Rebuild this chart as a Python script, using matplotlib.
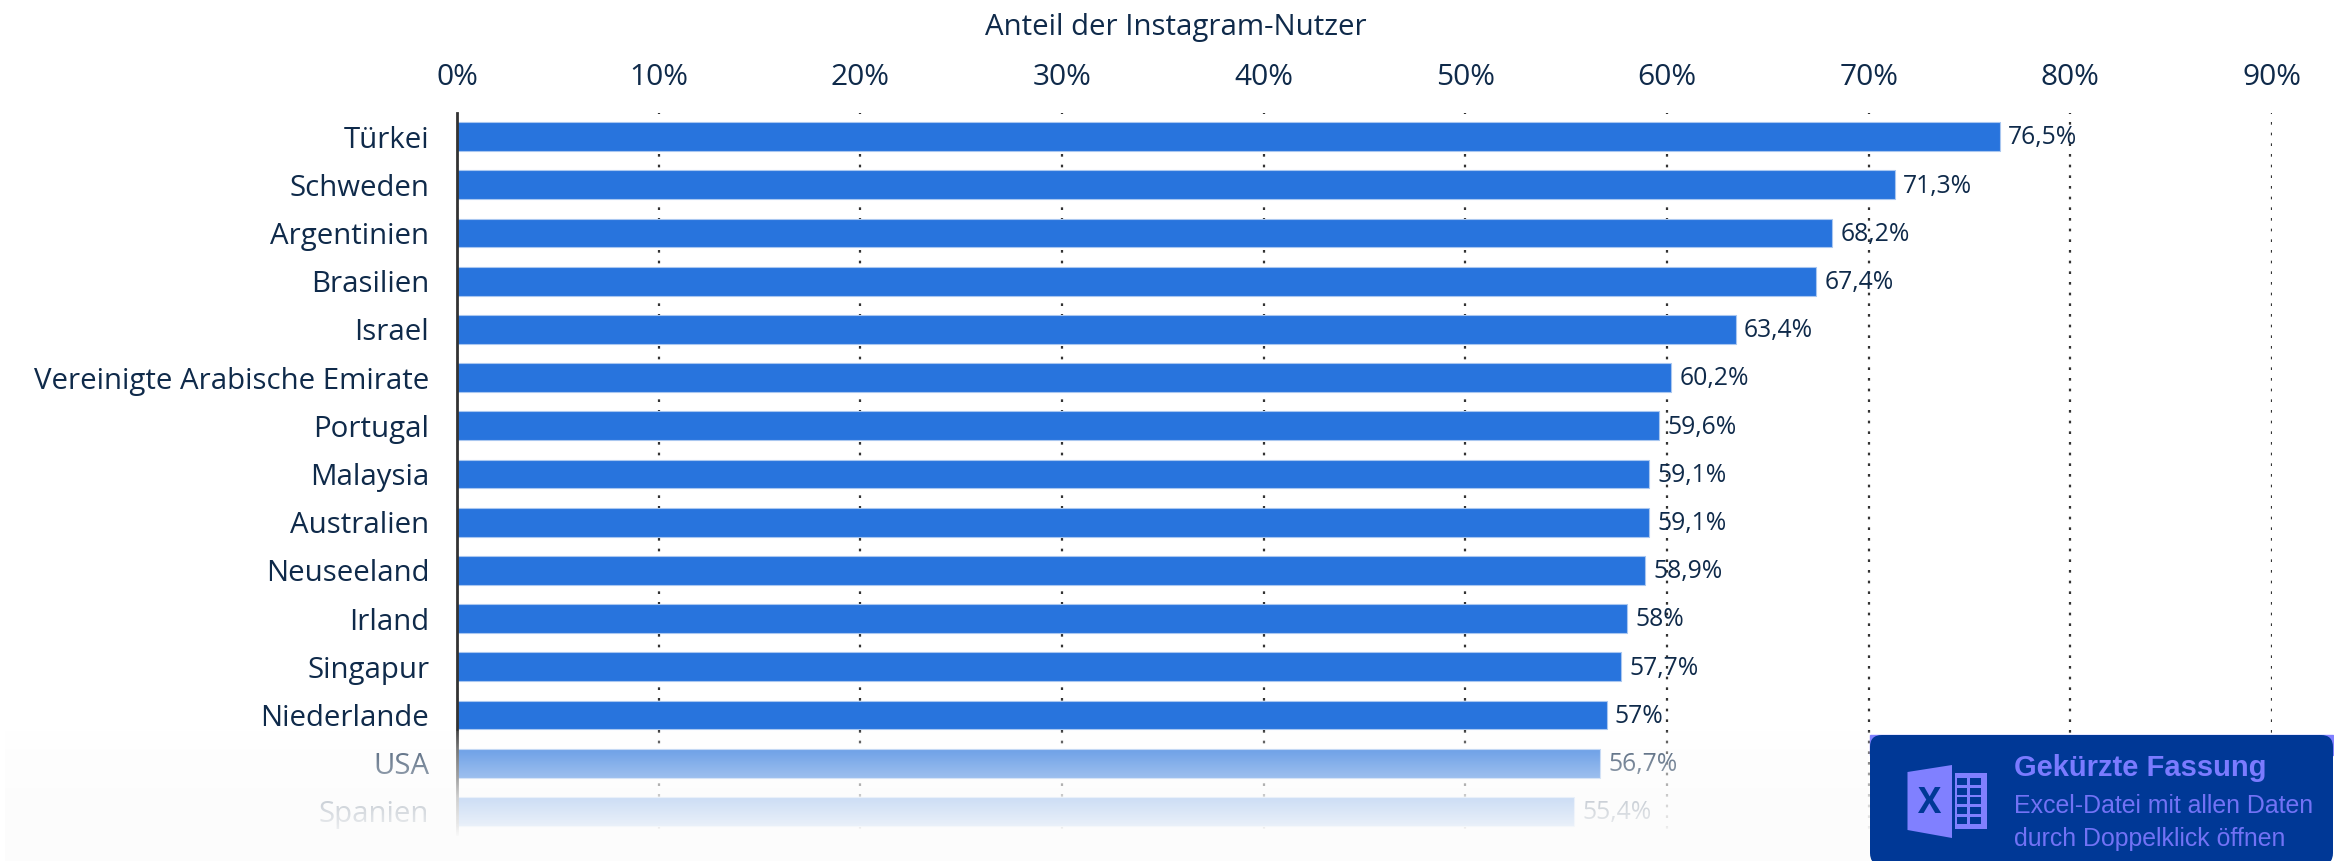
import numpy as np
import matplotlib
matplotlib.use("Agg")
import matplotlib.pyplot as plt
from matplotlib.patches import FancyBboxPatch, Polygon, Rectangle

W, H = 2334, 861

countries = ["Türkei", "Schweden", "Argentinien", "Brasilien", "Israel",
             "Vereinigte Arabische Emirate", "Portugal", "Malaysia", "Australien",
             "Neuseeland", "Irland", "Singapur", "Niederlande", "USA", "Spanien"]
shares = [76.5, 71.3, 68.2, 67.4, 63.4, 60.2, 59.6, 59.1, 59.1, 58.9, 58, 57.7, 57, 56.7, 55.4]
share_labels = ["76,5%", "71,3%", "68,2%", "67,4%", "63,4%", "60,2%", "59,6%", "59,1%", "59,1%",
                "58,9%", "58%", "57,7%", "57%", "56,7%", "55,4%"]
x_ticks = [0, 10, 20, 30, 40, 50, 60, 70, 80, 90]
x_tick_labels = ["0%", "10%", "20%", "30%", "40%", "50%", "60%", "70%", "80%", "90%"]

plt.rcParams["font.family"] = "Open Sans"
DARK = "#0f2a4a"

fig = plt.figure(figsize=(W / 100, H / 100), dpi=100, facecolor="white")

# pixel rect of the plot area
left, right, top, bottom = 457, 2272, 112.5, 835.5
ax = fig.add_axes([left / W, 1 - bottom / H, (right - left) / W, (bottom - top) / H])

y = np.arange(len(countries))
ax.barh(y, shares, height=0.6, color="#2874dd", edgecolor="#a9c7f0", linewidth=0.8, zorder=2)
ax.set_xlim(0, 90)
ax.set_ylim(len(countries) - 0.5, -0.5)

ax.xaxis.tick_top()
ax.set_xticks(x_ticks)
ax.set_xticklabels(x_tick_labels, fontsize=21.5, color=DARK)
ax.set_yticks(y)
ax.set_yticklabels(countries, fontsize=21.2, color=DARK)
ax.tick_params(axis="both", length=0)
ax.tick_params(axis="x", pad=15)
ax.tick_params(axis="y", pad=20)
ax.xaxis.grid(True, color="#333333", linewidth=1.6, linestyle=(1.5, (1.2, 3.6)), zorder=1)
ax.set_axisbelow(True)

for side in ["top", "right", "bottom"]:
    ax.spines[side].set_visible(False)
ax.spines["left"].set_color("#333333")
ax.spines["left"].set_linewidth(2)
ax.spines["left"].set_zorder(3)

for yi, val, lab in zip(y, shares, share_labels):
    ax.annotate(lab, (val, yi), xytext=(6, -1), textcoords="offset points", va="center",
                ha="left", fontsize=17.8, color=DARK, zorder=4)

ax.set_title("Anteil der Instagram-Nutzer", fontsize=21.2, color=DARK, x=0.396, y=1, pad=56)

# overlay in pixel coords: white fade and the excel badge
ov = fig.add_axes([0, 0, 1, 1], zorder=10)
ov.patch.set_alpha(0)

rows = np.arange(731, 861)
alpha = np.interp(rows, [731, 748, 778, 797, 826, 836], [0.1, 0.33, 0.56, 0.78, 0.92, 1.0])
fade = np.ones((len(rows), 1, 4))
fade[:, 0, :3] = 0.99
fade[:, 0, 3] = alpha
ov.imshow(fade, aspect="auto", extent=(5, 1870, 861, 731), zorder=1, interpolation="bilinear")

ov.set_xlim(0, W)
ov.set_ylim(H, 0)
ov.axis("off")

BADGE = "#003896"
PURPLE = "#8080ff"
ov.add_patch(Rectangle((1870, 735), 463, 20, color=PURPLE, zorder=2))
ov.add_patch(FancyBboxPatch((1882, 747), 439, 106, boxstyle="round,pad=12,rounding_size=12",
                            fc=BADGE, ec="none", zorder=3))

# excel icon
ov.add_patch(Polygon([(1907.5, 772), (1952, 765), (1952, 838), (1907.5, 830)], fc=PURPLE, ec="none", zorder=4))
ov.text(1930, 804, "X", fontsize=25, fontweight="bold", family="Open Sans",
        color=BADGE, ha="center", va="center", zorder=5)
ov.add_patch(Rectangle((1955, 773), 32, 56, fc=PURPLE, ec="none", zorder=4))
for row_top in [777.5, 787.5, 797, 807, 816.7]:
    ov.add_patch(Rectangle((1957, row_top), 9.5, 7, fc=BADGE, ec="none", zorder=5))
    ov.add_patch(Rectangle((1969.5, row_top), 11.5, 7, fc=BADGE, ec="none", zorder=5))

ov.text(2014, 768, "Gekürzte Fassung", family="Liberation Sans", fontweight="bold", fontsize=21,
        color="#7b7bff", va="center", ha="left", zorder=5)
ov.text(2014, 806, "Excel-Datei mit allen Daten", family="Liberation Sans", fontsize=17.9,
        color="#7272f5", va="center", ha="left", zorder=5)
ov.text(2014, 839, "durch Doppelklick öffnen", family="Liberation Sans", fontsize=17.9,
        color="#7272f5", va="center", ha="left", zorder=5)

fig.savefig("out.png", dpi=100)
